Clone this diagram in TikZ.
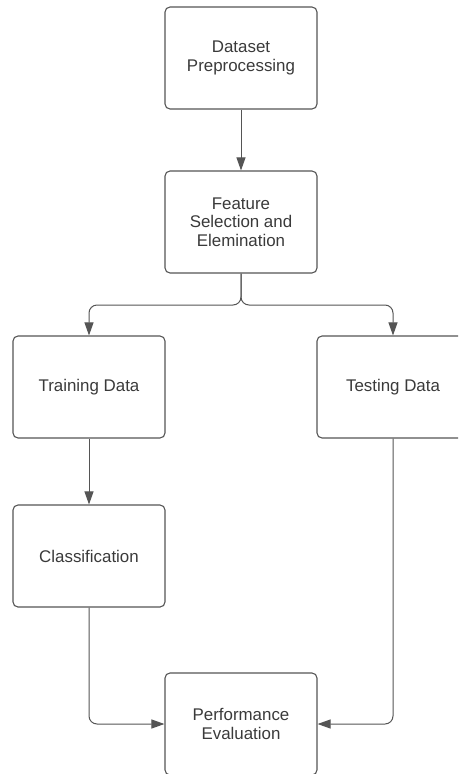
\documentclass[tikz,border=0pt]{standalone}
\usepackage{fontspec}
\setmainfont{Liberation Sans}
\usetikzlibrary{arrows.meta}
\definecolor{linecol}{HTML}{555555}
\definecolor{textcol}{HTML}{3A3A3A}
\begin{document}
\begin{tikzpicture}[x=1pt,y=1pt,
  box/.style={draw=linecol, line width=1.1pt, rounded corners=5pt, rectangle,
    minimum width=152pt, minimum height=102pt, align=center, text=textcol,
    font=\fontsize{16.9pt}{18.5pt}\selectfont, inner sep=2pt},
  conn/.style={draw=linecol, line width=1pt, rounded corners=8pt,
    -{Triangle[length=13pt,width=9pt]}}]
\path[use as bounding box, clip] (0,0) rectangle (458,-774);
\node[box] (data) at (241,-58) {Dataset\\Preprocessing};
\node[box] (feat) at (241,-222) {Feature\\Selection and\\Elemination};
\node[box] (train) at (89,-387) {Training Data};
\node[box] (test) at (393,-387) {Testing Data};
\node[box] (cls) at (89,-556) {Classification};
\node[box] (perf) at (241,-724) {Performance\\Evaluation};
\coordinate (split) at (241,-305);
\draw[conn] (data) -- (feat);
\draw[conn] (feat.south) -- (split) -| (train.north);
\draw[conn] (feat.south) -- (split) -| (test.north);
\draw[conn] (train) -- (cls);
\draw[conn] (cls.south) |- (perf.west);
\draw[conn] (test.south) |- (perf.east);
\end{tikzpicture}
\end{document}
